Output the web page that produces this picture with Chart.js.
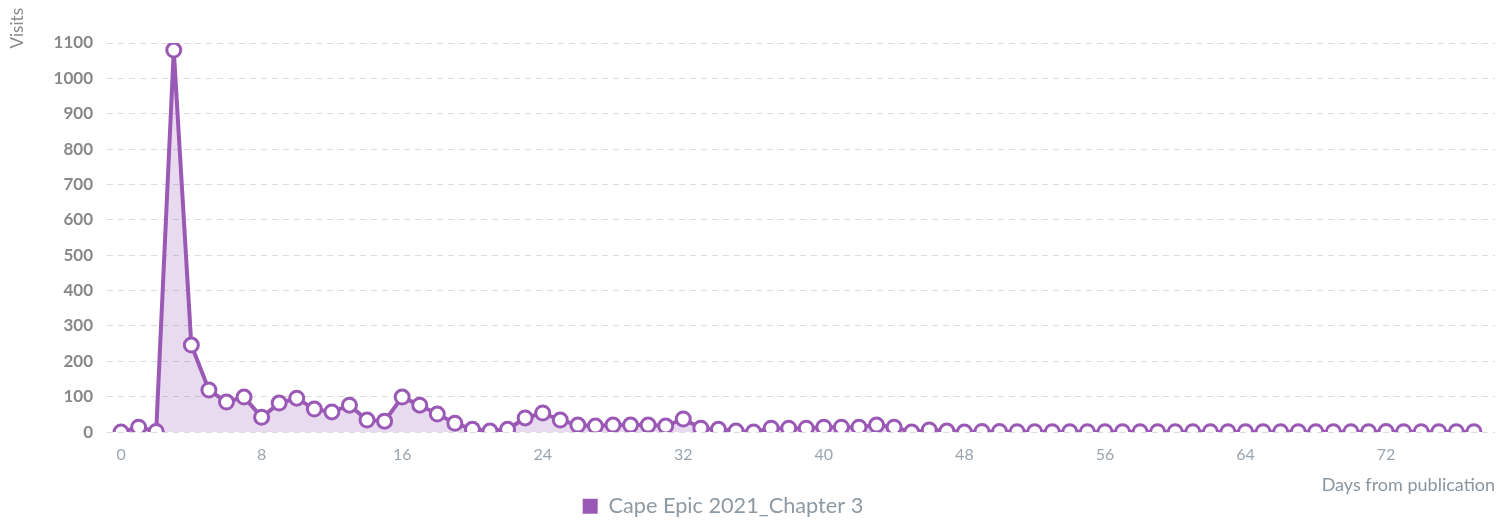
<!DOCTYPE html>
<html>
<head>
<meta charset="utf-8">
<script src="https://cdn.jsdelivr.net/npm/chart.js@4/dist/chart.umd.min.js"></script>
<style>
  html, body { margin: 0; padding: 0; background: #fff; }
  #wrap { width: 1505px; height: 520px; position: relative; }
</style>
</head>
<body>
<div id="wrap"><canvas id="c"></canvas></div>
<script>
const seriesName = "Cape Epic 2021_Chapter 3";
const days = [];
for (let d = 0; d <= 77; d++) days.push(d);
const visits = [0,14,2,1080,246,119,85,99,42,82,96,65,57,76,34,31,99,76,51,25,8,3,8,40,54,34,20,17,20,20,20,17,37,11,8,3,0,11,11,11,14,14,14,20,14,0,6,3,0,2,2,1,1,1,1,1,1,1,1,1,1,1,1,1,1,1,1,1,1,1,1,1,2,1,1,1,1,1];
const xTicks = [0,8,16,24,32,40,48,56,64,72];
const yTicks = [0,100,200,300,400,500,600,700,800,900,1000,1100];
const xTitle = "Days from publication";
const yTitle = "Visits";

const purple = '#9b59b6';
const fontFam = 'Lato, "Open Sans", sans-serif';

const yTitlePlugin = {
  id: 'yTitle',
  afterLayout(chart) {
    const lg = chart.legend;
    if (lg) {
      const d = 723 - (lg.left + lg.right) / 2;
      lg.left += d;
      lg.right += d;
    }
  },
  afterDraw(chart) {
    const ctx = chart.ctx;
    ctx.save();
    ctx.translate(18, 8);
    ctx.rotate(-Math.PI / 2);
    ctx.font = '17px ' + fontFam;
    ctx.fillStyle = '#8a8a8a';
    ctx.textAlign = 'right';
    ctx.textBaseline = 'middle';
    ctx.fillText(yTitle, 0, 0);
    ctx.restore();
  }
};

new Chart(document.getElementById('c'), {
  type: 'line',
  data: {
    datasets: [{
      label: seriesName,
      data: days.map((d, i) => ({ x: d, y: visits[i] })),
      borderColor: purple,
      backgroundColor: 'rgba(155,89,182,0.22)',
      borderWidth: 4,
      fill: 'origin',
      tension: 0,
      pointRadius: 7,
      pointHoverRadius: 7,
      pointBorderWidth: 3,
      pointBackgroundColor: '#ffffff',
      pointBorderColor: purple
    }]
  },
  options: {
    responsive: true,
    maintainAspectRatio: false,
    animation: false,
    layout: { padding: { top: 43, right: -5, left: 0, bottom: -7 } },
    plugins: {
      tooltip: { enabled: false },
      legend: {
        position: 'bottom',
        labels: {
          boxWidth: 15,
          boxHeight: 15,
          padding: 2,
          color: '#8e9aa3',
          font: { family: fontFam, size: 21.7 },
          generateLabels(chart) {
            return [{ text: seriesName, fillStyle: purple, strokeStyle: purple, lineWidth: 0, datasetIndex: 0, fontColor: '#8e9aa3' }];
          }
        }
      }
    },
    scales: {
      x: {
        type: 'linear',
        min: -0.8,
        max: 78.2,
        afterBuildTicks(scale) { scale.ticks = xTicks.map(v => ({ value: v })); },
        grid: { display: false, drawTicks: false },
        border: { display: false },
        ticks: {
          padding: 13,
          color: '#9aa5ae',
          font: { family: fontFam, size: 16 },
          maxRotation: 0,
          autoSkip: false
        },
        title: {
          display: true,
          text: xTitle,
          align: 'end',
          color: '#8a969f',
          font: { family: fontFam, size: 18, lineHeight: 1 },
          padding: { top: -1, bottom: -1 }
        }
      },
      y: {
        type: 'linear',
        min: 0,
        max: 1100,
        afterBuildTicks(scale) { scale.ticks = yTicks.map(v => ({ value: v })); },
        afterFit(scale) { scale.width = 107; },
        grid: { color: '#dcdcdc', lineWidth: 1, drawTicks: false },
        border: { display: false, dash: [6, 5] },
        ticks: {
          padding: 14,
          color: '#888888',
          font: { family: fontFam, size: 17, weight: 'bold' },
          callback: (v) => String(v)
        }
      }
    }
  },
  plugins: [yTitlePlugin]
});
</script>
</body>
</html>
